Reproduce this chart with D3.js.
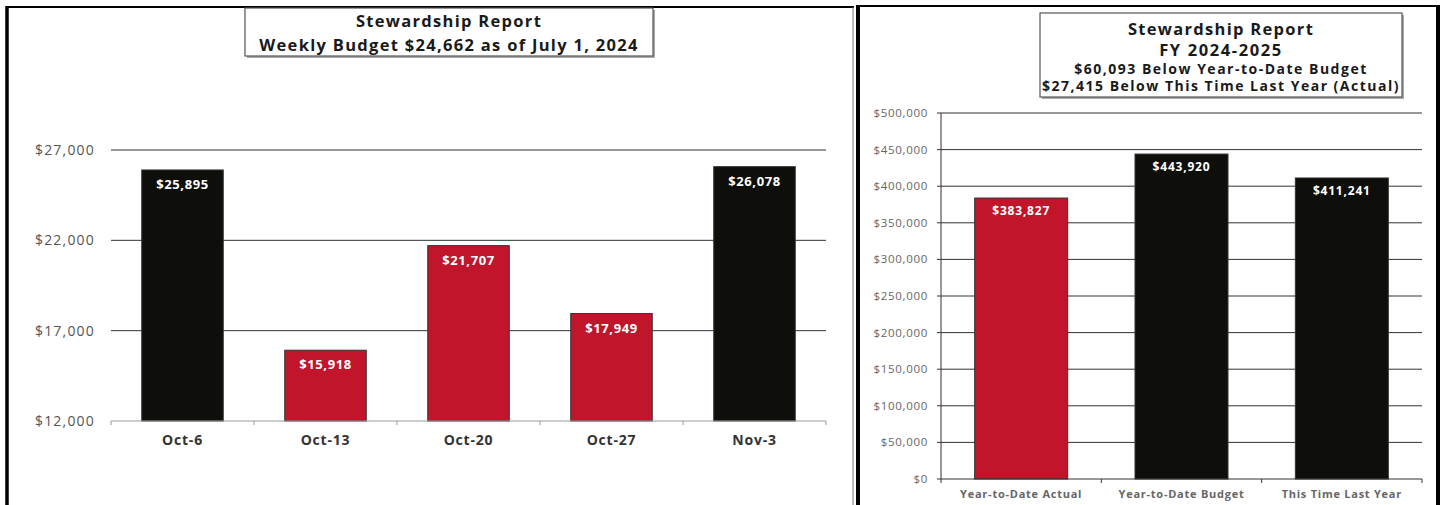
<!DOCTYPE html>
<html>
<head>
<meta charset="utf-8">
<script src="https://cdn.jsdelivr.net/npm/d3@7"></script>
<style>
  body { margin: 0; background: #fff; }
  svg { display: block; font-family: "Open Sans", Lato, sans-serif; }
</style>
</head>
<body>
<div class="grafico"></div>
<script>
// weekly chart
const weeks = ["Oct-6", "Oct-13", "Oct-20", "Oct-27", "Nov-3"];
const weeklyGiving = [25895, 15918, 21707, 17949, 26078];
const weeklyBudget = 24662;
const weeklyTicks = [12000, 17000, 22000, 27000];
const weeklyTitle = ["Stewardship Report", "Weekly Budget $24,662 as of July 1, 2024"];

// year to date chart
const ytdCategories = ["Year-to-Date Actual", "Year-to-Date Budget", "This Time Last Year"];
const ytdValues = [383827, 443920, 411241];
const ytdColors = ["red", "black", "black"];
const ytdTicks = [0, 50000, 100000, 150000, 200000, 250000, 300000, 350000, 400000, 450000, 500000];
const ytdTitle = ["Stewardship Report", "FY 2024-2025",
    "$60,093 Below Year-to-Date Budget", "$27,415 Below This Time Last Year (Actual)"];

const RED = "#c1152b";
const BLACK = "#0e0e0b";
const fmt = d3.format("$,");

const width = 1443, height = 505;
const svg = d3.select(".grafico")
    .append("svg")
    .attr("width", width)
    .attr("height", height);

// panel frames
svg.append("line").attr("x1", 7).attr("x2", 7).attr("y1", 6).attr("y2", height)
    .attr("stroke", "#000").attr("stroke-width", 3.5);
svg.append("line").attr("x1", 6).attr("x2", 854).attr("y1", 7).attr("y2", 7)
    .attr("stroke", "#000").attr("stroke-width", 2);
svg.append("line").attr("x1", 853).attr("x2", 853).attr("y1", 7).attr("y2", height)
    .attr("stroke", "#777").attr("stroke-width", 1);
svg.append("line").attr("x1", 858).attr("x2", 858).attr("y1", 5).attr("y2", height)
    .attr("stroke", "#000").attr("stroke-width", 4);
svg.append("line").attr("x1", 856).attr("x2", 1440).attr("y1", 6).attr("y2", 6)
    .attr("stroke", "#000").attr("stroke-width", 2);
svg.append("line").attr("x1", 1438).attr("x2", 1438).attr("y1", 5).attr("y2", height)
    .attr("stroke", "#000").attr("stroke-width", 4);

function titleBox(x0, y0, w, h, lines, sizes, spacing, baselines) {
    const g = svg.append("g");
    g.append("rect").attr("x", x0 + 2).attr("y", y0 + 2).attr("width", w).attr("height", h)
        .attr("fill", "#aaa");
    g.append("rect").attr("x", x0).attr("y", y0).attr("width", w).attr("height", h)
        .attr("fill", "#fff").attr("stroke", "#555").attr("stroke-width", 1.2);
    g.selectAll("text")
        .data(lines)
        .enter().append("text")
        .attr("x", x0 + w / 2)
        .attr("y", (d, i) => baselines[i])
        .attr("text-anchor", "middle")
        .attr("font-weight", "bold")
        .attr("font-size", (d, i) => sizes[i])
        .attr("letter-spacing", (d, i) => spacing[i])
        .attr("fill", "#1a1a1a")
        .text(d => d);
}

// ---------- weekly chart ----------
const x1 = d3.scaleBand().domain(weeks).range([111, 826]).paddingInner(0.43).paddingOuter(0.215);
const y1 = d3.scaleLinear().domain([12000, 27000]).range([421, 150]);

const g1 = svg.append("g");
g1.selectAll(".grid")
    .data(weeklyTicks.slice(1))
    .enter().append("line")
    .attr("x1", 111).attr("x2", 826)
    .attr("y1", d => y1(d)).attr("y2", d => y1(d))
    .attr("stroke", "#333").attr("stroke-width", 1);

g1.selectAll(".ylab")
    .data(weeklyTicks)
    .enter().append("text")
    .attr("x", 95)
    .attr("y", d => y1(d) + 5)
    .attr("text-anchor", "end")
    .attr("font-size", 14)
    .attr("letter-spacing", 1.2)
    .attr("fill", "#555")
    .text(d => fmt(d));

g1.selectAll("rect")
    .data(weeks)
    .enter().append("rect")
    .attr("x", d => x1(d))
    .attr("width", x1.bandwidth())
    .attr("y", (d, i) => y1(weeklyGiving[i]))
    .attr("height", (d, i) => y1(12000) - y1(weeklyGiving[i]))
    .attr("fill", (d, i) => weeklyGiving[i] < weeklyBudget ? RED : BLACK)
    .attr("stroke", "#333")
    .attr("stroke-width", 1);

g1.selectAll(".val")
    .data(weeks)
    .enter().append("text")
    .attr("x", d => x1(d) + x1.bandwidth() / 2)
    .attr("y", (d, i) => y1(weeklyGiving[i]) + 19)
    .attr("text-anchor", "middle")
    .attr("font-size", 13)
    .attr("font-weight", "bold")
    .attr("letter-spacing", 0.6)
    .attr("fill", "#fff")
    .text((d, i) => fmt(weeklyGiving[i]));

// x axis baseline with ticks between bands
const xAxis1 = g1.append("g").attr("transform", `translate(0, ${y1(12000)})`);
xAxis1.append("line").attr("x1", 111).attr("x2", 826).attr("stroke", "#999");
xAxis1.selectAll(".tk")
    .data(d3.range(weeks.length + 1))
    .enter().append("line")
    .attr("x1", i => 111 + i * (715 / weeks.length))
    .attr("x2", i => 111 + i * (715 / weeks.length))
    .attr("y1", 0).attr("y2", 4)
    .attr("stroke", "#999");
xAxis1.selectAll("text")
    .data(weeks)
    .enter().append("text")
    .attr("x", d => x1(d) + x1.bandwidth() / 2)
    .attr("y", 24)
    .attr("text-anchor", "middle")
    .attr("font-size", 14)
    .attr("font-weight", "bold")
    .attr("letter-spacing", 0.8)
    .attr("fill", "#333")
    .text(d => d);

titleBox(245, 8, 408, 48, weeklyTitle, [16.5, 16.5], [1.3, 1.3], [27, 51]);

// ---------- year to date chart ----------
const x2 = d3.scaleBand().domain(ytdCategories).range([941, 1422]).paddingInner(0.42).paddingOuter(0.21);
const y2 = d3.scaleLinear().domain([0, 500000]).range([479, 113]);

const g2 = svg.append("g");
g2.selectAll(".grid")
    .data(ytdTicks.slice(1))
    .enter().append("line")
    .attr("x1", 937).attr("x2", 1422)
    .attr("y1", d => y2(d)).attr("y2", d => y2(d))
    .attr("stroke", "#333").attr("stroke-width", 1);

g2.selectAll(".ylab")
    .data(ytdTicks)
    .enter().append("text")
    .attr("x", 928)
    .attr("y", d => y2(d) + 4)
    .attr("text-anchor", "end")
    .attr("font-size", 11.5)
    .attr("letter-spacing", 0.7)
    .attr("fill", "#666")
    .text(d => fmt(d));

g2.selectAll("rect")
    .data(ytdCategories)
    .enter().append("rect")
    .attr("x", d => x2(d))
    .attr("width", x2.bandwidth())
    .attr("y", (d, i) => y2(ytdValues[i]))
    .attr("height", (d, i) => y2(0) - y2(ytdValues[i]))
    .attr("fill", (d, i) => ytdColors[i] === "red" ? RED : BLACK)
    .attr("stroke", "#333")
    .attr("stroke-width", 1);

g2.selectAll(".val")
    .data(ytdCategories)
    .enter().append("text")
    .attr("x", d => x2(d) + x2.bandwidth() / 2)
    .attr("y", (d, i) => y2(ytdValues[i]) + 17)
    .attr("text-anchor", "middle")
    .attr("font-size", 12)
    .attr("font-weight", "bold")
    .attr("letter-spacing", 0.8)
    .attr("fill", "#fff")
    .text((d, i) => fmt(ytdValues[i]));

// y axis line
g2.append("line").attr("x1", 941).attr("x2", 941).attr("y1", y2(500000)).attr("y2", y2(0))
    .attr("stroke", "#333");

const xAxis2 = g2.append("g").attr("transform", `translate(0, ${y2(0)})`);
xAxis2.append("line").attr("x1", 937).attr("x2", 1422).attr("stroke", "#333");
xAxis2.selectAll(".tk")
    .data(d3.range(ytdCategories.length + 1))
    .enter().append("line")
    .attr("x1", i => 941 + i * (481 / ytdCategories.length))
    .attr("x2", i => 941 + i * (481 / ytdCategories.length))
    .attr("y1", 0).attr("y2", 4)
    .attr("stroke", "#333");
xAxis2.selectAll("text")
    .data(ytdCategories)
    .enter().append("text")
    .attr("x", d => x2(d) + x2.bandwidth() / 2)
    .attr("y", 19)
    .attr("text-anchor", "middle")
    .attr("font-size", 11)
    .attr("font-weight", "bold")
    .attr("letter-spacing", 0.75)
    .attr("fill", "#666")
    .text(d => d);

titleBox(1040, 13, 362, 84, ytdTitle, [16.5, 16.5, 14, 14], [1.3, 1.6, 1.5, 1.5], [35, 56, 74, 91]);
</script>
</body>
</html>
